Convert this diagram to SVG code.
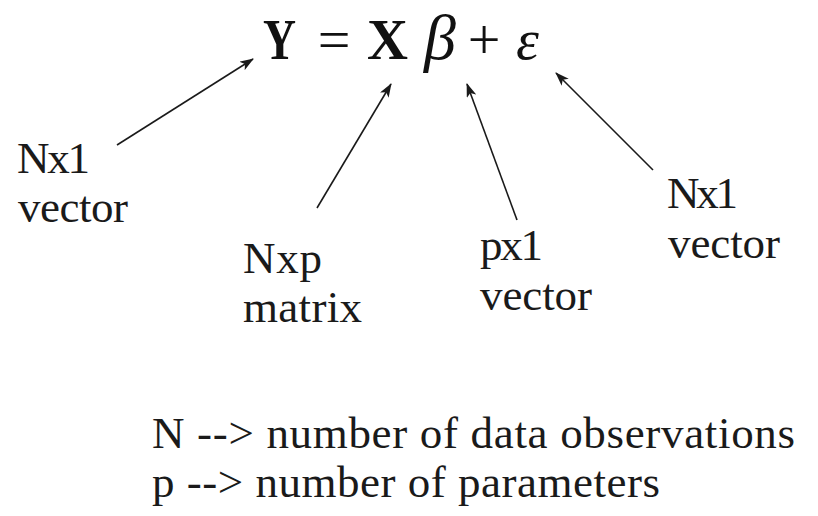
<svg xmlns="http://www.w3.org/2000/svg" width="818" height="516" viewBox="0 0 818 516">
<defs>
<style>
.lbl{font-family:"Liberation Serif","DejaVu Serif",serif;font-size:45px;fill:#1a1a1a}
.eqb{font-family:"Liberation Serif","DejaVu Serif",serif;font-size:58px;font-weight:bold;fill:#111}
.eq{font-family:"Liberation Serif","DejaVu Serif",serif;font-size:58px;fill:#111}
.eqi{font-family:"Liberation Serif","DejaVu Serif",serif;font-size:58px;font-style:italic;fill:#111}
.arr{stroke:#1a1a1a;stroke-width:1.6;fill:none;marker-end:url(#ah)}
</style>
<marker id="ah" viewBox="0 0 14 10" refX="13" refY="5" markerWidth="14" markerHeight="10" markerUnits="userSpaceOnUse" orient="auto">
<path d="M0,0 L14,5 L0,10 L3.5,5 z" fill="#1a1a1a"/>
</marker>
</defs>
<rect width="818" height="516" fill="#fff"/>
<g id="equation">
<text class="eqb" x="263" y="59" textLength="33" lengthAdjust="spacingAndGlyphs">Y</text>
<text class="eq" x="334" y="59" text-anchor="middle">=</text>
<text class="eqb" x="367" y="59" textLength="41" lengthAdjust="spacingAndGlyphs">X</text>
<text class="eqi" x="424" y="59" style="font-size:64px">β</text>
<text class="eq" x="484" y="59" text-anchor="middle">+</text>
<text class="eqi" x="516" y="59">ε</text>
</g>
<g id="connectors">
<line class="arr" x1="117" y1="145" x2="253" y2="59"/>
<line class="arr" x1="317" y1="208" x2="391" y2="84"/>
<line class="arr" x1="517" y1="220" x2="467" y2="84"/>
<line class="arr" x1="653" y1="170" x2="556" y2="73"/>
</g>
<g id="label-y">
<text class="lbl" x="17" y="173" textLength="73" lengthAdjust="spacing">Nx1</text>
<text class="lbl" x="18" y="222" textLength="110" lengthAdjust="spacing">vector</text>
</g>
<g id="label-x">
<text class="lbl" x="243" y="273" textLength="79" lengthAdjust="spacing">Nxp</text>
<text class="lbl" x="243" y="322" textLength="119" lengthAdjust="spacing">matrix</text>
</g>
<g id="label-beta">
<text class="lbl" x="480" y="260" textLength="63" lengthAdjust="spacing">px1</text>
<text class="lbl" x="480" y="310" textLength="112" lengthAdjust="spacing">vector</text>
</g>
<g id="label-eps">
<text class="lbl" x="667" y="208" textLength="71" lengthAdjust="spacing">Nx1</text>
<text class="lbl" x="668" y="258" textLength="112" lengthAdjust="spacing">vector</text>
</g>
<g id="legend">
<text class="lbl" x="152" y="448" textLength="643" lengthAdjust="spacing">N --&gt; number of data observations</text>
<text class="lbl" x="152" y="497" textLength="508" lengthAdjust="spacing">p --&gt; number of parameters</text>
</g>
</svg>
